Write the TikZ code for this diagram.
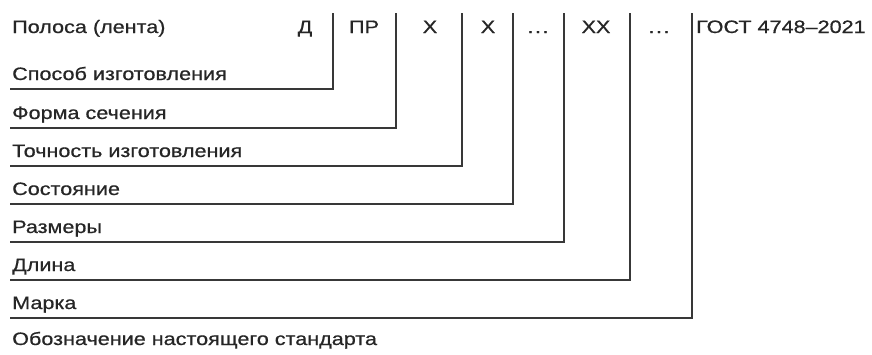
\documentclass[tikz,border=0pt]{standalone}
\usepackage{fontspec}
\setmainfont[FakeStretch=1.2,FakeBold=0.7]{Liberation Sans}
\begin{document}
\begin{tikzpicture}[x=1pt,y=-1pt,
  txt/.style={inner sep=0pt,text=black!85,font=\fontsize{18}{20}\selectfont},
  lbl/.style={txt,anchor=base west},
  code/.style={txt,anchor=base},
  ldr/.style={draw=black!78,line width=1.5pt}]
\useasboundingbox (0,0) rectangle (872,354);
% top row
\node[lbl] (head) at (12,33) {Полоса (лента)};
\node[code] (c1) at (305,33) {Д};
\node[code] (c2) at (364,33) {ПР};
\node[code] (c3) at (430,33) {X};
\node[code] (c4) at (488,33) {X};
\node[code] (c5) at (538,33) {.\kern1.5pt.\kern1.5pt.};
\node[code] (c6) at (596,33) {XX};
\node[code] (c7) at (659,33) {.\kern1.5pt.\kern1.5pt.};
\node[lbl] (gost) at (696,33) {ГОСТ 4748–2021};
% labels
\node[lbl] (l1) at (12,80) {Способ изготовления};
\node[lbl] (l2) at (12,119) {Форма сечения};
\node[lbl] (l3) at (12,157) {Точность изготовления};
\node[lbl] (l4) at (12,195) {Состояние};
\node[lbl] (l5) at (12,233) {Размеры};
\node[lbl] (l6) at (12,271) {Длина};
\node[lbl] (l7) at (12,309) {Марка};
\node[lbl] (l8) at (12,345) {Обозначение настоящего стандарта};
% corner coordinates
\coordinate (t1) at (333,13); \coordinate (b1) at (333,89); \coordinate (s1) at (10,89);
\coordinate (t2) at (396,13); \coordinate (b2) at (396,128); \coordinate (s2) at (10,128);
\coordinate (t3) at (462,13); \coordinate (b3) at (462,166); \coordinate (s3) at (10,166);
\coordinate (t4) at (513,13); \coordinate (b4) at (513,204); \coordinate (s4) at (10,204);
\coordinate (t5) at (564,13); \coordinate (b5) at (564,242); \coordinate (s5) at (10,242);
\coordinate (t6) at (630,13); \coordinate (b6) at (630,280); \coordinate (s6) at (10,280);
\coordinate (t7) at (692,13); \coordinate (b7) at (692,318); \coordinate (s7) at (10,318);
\foreach \i in {1,...,7} {\draw[ldr] (s\i) -- (b\i) -- (t\i);}
\end{tikzpicture}
\end{document}
